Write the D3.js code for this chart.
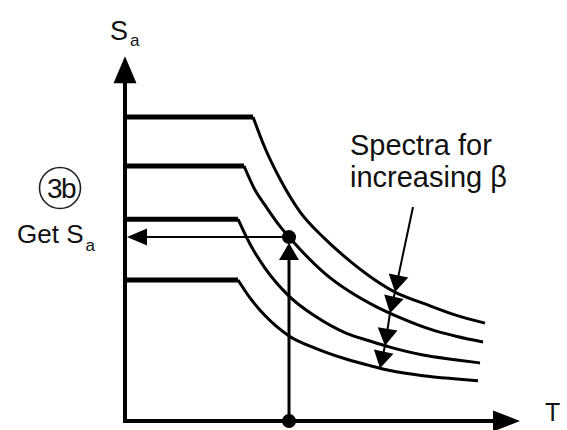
<!DOCTYPE html>
<html>
<head>
<meta charset="utf-8">
<script src="https://cdn.jsdelivr.net/npm/d3@7"></script>
<style>
  html, body { margin: 0; padding: 0; background: #fff; }
  svg { display: block; }
  text { font-family: "Liberation Sans", Arial, Helvetica, sans-serif; fill: #111; }
</style>
</head>
<body>
<svg id="chart" width="567" height="430"></svg>
<script>
// Design response spectra: one curve per damping level (beta increases downward)
const plateauSa = [1.000, 0.839, 0.664, 0.464];
const cornerT   = [1.28, 1.19, 1.13, 1.13];

const spectrum1 = [[1.28,1.000],[1.40,0.898],[1.55,0.796],[1.75,0.688],[2.00,0.599],[2.25,0.526],[2.50,0.464],[2.70,0.424],[3.00,0.385],[3.30,0.349],[3.60,0.322]];
const spectrum2 = [[1.19,0.839],[1.30,0.760],[1.40,0.710],[1.55,0.640],[1.64,0.605],[1.75,0.565],[2.00,0.485],[2.25,0.425],[2.50,0.378],[2.75,0.340],[3.05,0.302],[3.32,0.278],[3.58,0.260]];
const spectrum3 = [[1.13,0.664],[1.25,0.582],[1.40,0.503],[1.64,0.411],[1.90,0.345],[2.21,0.289],[2.45,0.263],[2.65,0.243],[2.98,0.217],[3.32,0.201],[3.55,0.191]];
const spectrum4 = [[1.13,0.464],[1.25,0.405],[1.40,0.347],[1.64,0.280],[1.90,0.240],[2.21,0.204],[2.45,0.182],[2.65,0.166],[2.98,0.149],[3.32,0.138],[3.53,0.132]];
const spectra = [spectrum1, spectrum2, spectrum3, spectrum4];

// Effective period of the structure and the spectral acceleration read at it
const designT  = 1.64;
const designSa = 0.605;

// Callout: start of the leader and the periods where it meets each spectrum
const leaderStart = [2.88, 0.704];
const leaderT = [2.70, 2.65, 2.60, 2.55];

const axisMaxT = 3.95;
const axisMaxSa = 1.2;

const labels = {
  yName: "S", ySub: "a",
  xName: "T",
  step: "3b",
  get: "Get S", getSub: "a",
  note1: "Spectra for",
  note2: "increasing \u03B2"
};

const svg = d3.select("#chart");
const x = d3.scaleLinear().domain([0, 4]).range([125, 525]);
const y = d3.scaleLinear().domain([0, 1.2]).range([421, 56.2]);

const ink = "#000";

function arrowHead(g, tip, dir, len, half) {
  const n = Math.hypot(dir[0], dir[1]);
  const ux = dir[0] / n, uy = dir[1] / n;
  const bx = tip[0] - ux * len, by = tip[1] - uy * len;
  const px = -uy, py = ux;
  g.append("path")
    .attr("d", `M${tip[0]},${tip[1]}L${bx + px * half},${by + py * half}L${bx - px * half},${by - py * half}Z`)
    .attr("fill", ink);
}

const g = svg.append("g");

// Axes with arrowheads
const x0 = x(0), y0 = y(0);
g.append("line")
  .attr("x1", x0).attr("x2", x0)
  .attr("y1", y0 + 2).attr("y2", y(axisMaxSa) + 25)
  .attr("stroke", ink).attr("stroke-width", 4);
arrowHead(g, [x0, y(axisMaxSa)], [0, -1], 27, 11.5);

g.append("line")
  .attr("x1", x0 - 2).attr("x2", x(axisMaxT) - 25)
  .attr("y1", y0).attr("y2", y0)
  .attr("stroke", ink).attr("stroke-width", 4);
arrowHead(g, [x(axisMaxT), y0], [1, 0], 27, 10.5);

// Constant-acceleration plateaus
plateauSa.forEach((sa, i) => {
  g.append("line")
    .attr("x1", x0).attr("x2", x(cornerT[i]))
    .attr("y1", y(sa)).attr("y2", y(sa))
    .attr("stroke", ink).attr("stroke-width", 5);
});

// Descending branches
const line = d3.line().x(d => x(d[0])).y(d => y(d[1])).curve(d3.curveMonotoneX);
const paths = spectra.map(s =>
  g.append("path")
    .attr("d", line(s))
    .attr("fill", "none")
    .attr("stroke", ink)
    .attr("stroke-width", 3)
    .node()
);

// Point on a drawn branch at a given screen x
function pointAtX(pathNode, px) {
  let lo = 0, hi = pathNode.getTotalLength();
  for (let k = 0; k < 40; k++) {
    const mid = (lo + hi) / 2;
    if (pathNode.getPointAtLength(mid).x < px) lo = mid; else hi = mid;
  }
  const p = pathNode.getPointAtLength((lo + hi) / 2);
  return [p.x, p.y];
}

// Read-off construction: up from T, across to the Sa axis
const dx = x(designT), dy = y(designSa);
const dotR = 7;
g.append("line")
  .attr("x1", dx).attr("x2", dx)
  .attr("y1", y0).attr("y2", dy + dotR + 14)
  .attr("stroke", ink).attr("stroke-width", 3);
arrowHead(g, [dx, dy + dotR - 1], [0, -1], 17, 10);

g.append("line")
  .attr("x1", dx).attr("x2", x0 + 18)
  .attr("y1", dy).attr("y2", dy)
  .attr("stroke", ink).attr("stroke-width", 2);
arrowHead(g, [x0 + 2, dy], [-1, 0], 20, 8.5);

g.append("circle").attr("cx", dx).attr("cy", dy).attr("r", dotR).attr("fill", ink);
g.append("circle").attr("cx", dx).attr("cy", y0).attr("r", dotR).attr("fill", ink);

// Leader through the spectra, one arrowhead per curve
let prev = [x(leaderStart[0]), y(leaderStart[1])];
leaderT.forEach((t, i) => {
  const tip = pointAtX(paths[i], x(t));
  const dir = [tip[0] - prev[0], tip[1] - prev[1]];
  const n = Math.hypot(dir[0], dir[1]);
  const endX = tip[0] - dir[0] / n * 12, endY = tip[1] - dir[1] / n * 12;
  g.append("line")
    .attr("x1", prev[0]).attr("y1", prev[1])
    .attr("x2", endX).attr("y2", endY)
    .attr("stroke", ink).attr("stroke-width", 2);
  arrowHead(g, tip, dir, 17, 10);
  prev = tip;
});

// Labels
const yl = svg.append("text").attr("x", 110).attr("y", 40).attr("font-size", 27);
yl.append("tspan").text(labels.yName);
yl.append("tspan").attr("font-size", 17).attr("dx", 2).attr("dy", 6).text(labels.ySub);

svg.append("text").attr("x", 545).attr("y", 421).attr("font-size", 25).text(labels.xName);

svg.append("circle").attr("cx", 60).attr("cy", 188).attr("r", 20.5)
  .attr("fill", "none").attr("stroke", "#222").attr("stroke-width", 1.6);
svg.append("text").attr("x", 61).attr("y", 198).attr("font-size", 28)
  .attr("text-anchor", "middle").attr("letter-spacing", -1.5).text(labels.step);

const gl = svg.append("text").attr("x", 17).attr("y", 243).attr("font-size", 26);
gl.append("tspan").text(labels.get);
gl.append("tspan").attr("font-size", 17).attr("dx", 2).attr("dy", 8).text(labels.getSub);

svg.append("text").attr("x", 350).attr("y", 155).attr("font-size", 29).text(labels.note1);
svg.append("text").attr("x", 350).attr("y", 187).attr("font-size", 29).text(labels.note2);
</script>
</body>
</html>
